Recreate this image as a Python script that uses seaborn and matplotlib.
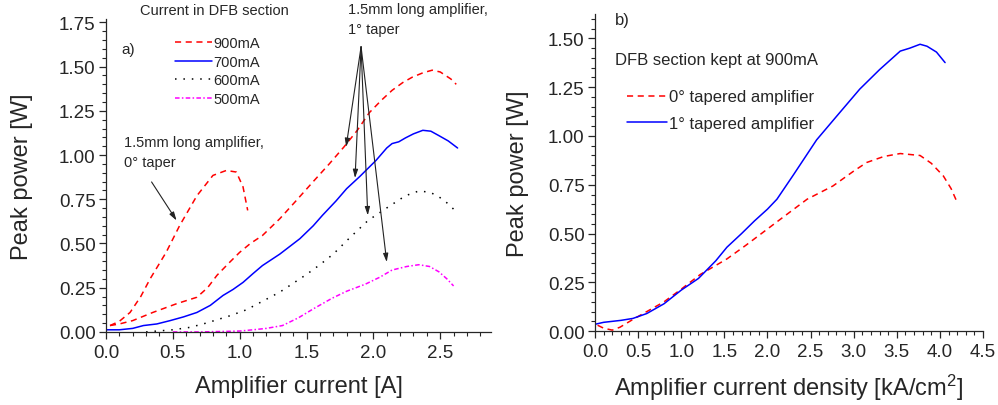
import numpy as np
import matplotlib
matplotlib.use("Agg")
import matplotlib.pyplot as plt
import pandas as pd
import seaborn as sns
from matplotlib.ticker import AutoMinorLocator, MultipleLocator

# ---- panel a) : peak power vs amplifier current, 1 deg taper, several DFB currents
i900 = [0.03, 0.10, 0.20, 0.35, 0.53, 0.68, 0.76, 0.83, 0.92, 1.00, 1.08, 1.17, 1.30, 1.42, 1.55,
        1.67, 1.78, 1.88, 1.97, 2.06, 2.14, 2.22, 2.29, 2.37, 2.44, 2.50, 2.54, 2.58, 2.62]
p900 = [0.036, 0.045, 0.064, 0.11, 0.16, 0.196, 0.25, 0.32, 0.39, 0.45, 0.50, 0.545, 0.64, 0.74, 0.85,
        0.95, 1.046, 1.14, 1.24, 1.31, 1.366, 1.41, 1.44, 1.465, 1.48, 1.47, 1.45, 1.43, 1.40]

i700 = [0.0, 0.10, 0.20, 0.28, 0.38, 0.48, 0.58, 0.68, 0.78, 0.875, 0.95, 1.025, 1.10, 1.17, 1.30,
        1.45, 1.55, 1.62, 1.72, 1.80, 1.90, 2.02, 2.10, 2.14, 2.19, 2.24, 2.30, 2.37, 2.43, 2.49, 2.56, 2.63]
p700 = [0.012, 0.012, 0.02, 0.036, 0.045, 0.064, 0.085, 0.11, 0.15, 0.206, 0.24, 0.28, 0.33, 0.375, 0.44,
        0.527, 0.60, 0.66, 0.74, 0.81, 0.88, 0.97, 1.04, 1.065, 1.075, 1.097, 1.12, 1.14, 1.135, 1.11, 1.08, 1.04]

i600 = [0.30, 0.40, 0.50, 0.63, 0.75, 0.93, 1.05, 1.15, 1.30, 1.40, 1.50, 1.60, 1.70, 1.82, 1.96,
        2.11, 2.24, 2.34, 2.42, 2.48, 2.55, 2.62]
p600 = [0.0, 0.006, 0.012, 0.026, 0.05, 0.092, 0.125, 0.165, 0.225, 0.275, 0.325, 0.38, 0.44, 0.53, 0.63,
        0.706, 0.77, 0.797, 0.79, 0.77, 0.73, 0.68]

i500 = [0.50, 0.70, 0.90, 1.00, 1.10, 1.20, 1.32, 1.44, 1.55, 1.69, 1.80, 1.94, 2.05, 2.14, 2.25,
        2.34, 2.42, 2.49, 2.55, 2.60]
p500 = [0.0, 0.0, 0.003, 0.005, 0.012, 0.02, 0.036, 0.08, 0.13, 0.19, 0.23, 0.27, 0.31, 0.35, 0.37,
        0.38, 0.37, 0.34, 0.30, 0.26]

# 0 deg taper amplifier, DFB at 900mA
i0 = [0.03, 0.10, 0.18, 0.26, 0.33, 0.45, 0.55, 0.68, 0.80, 0.90, 0.975, 1.025, 1.06]
p0 = [0.036, 0.06, 0.11, 0.20, 0.30, 0.45, 0.60, 0.77, 0.885, 0.913, 0.904, 0.82, 0.687]

# ---- panel b) : peak power vs amplifier current density, DFB at 900mA
j1 = [0.0, 0.10, 0.20, 0.30, 0.44, 0.60, 0.80, 1.00, 1.20, 1.40, 1.53, 1.70, 1.85, 2.00, 2.11,
      2.30, 2.57, 2.80, 3.07, 3.30, 3.54, 3.65, 3.77, 3.85, 3.96, 4.06]
q1 = [0.035, 0.045, 0.05, 0.055, 0.065, 0.09, 0.14, 0.21, 0.27, 0.36, 0.43, 0.50, 0.565, 0.625, 0.676,
      0.80, 0.98, 1.10, 1.24, 1.34, 1.435, 1.45, 1.47, 1.46, 1.43, 1.376]

j0 = [0.03, 0.10, 0.20, 0.29, 0.44, 0.60, 0.80, 1.00, 1.22, 1.53, 1.75, 1.99, 2.20, 2.46, 2.76,
      3.00, 3.15, 3.35, 3.54, 3.77, 3.90, 4.04, 4.13, 4.20]
q0 = [0.03, 0.015, 0.005, 0.02, 0.06, 0.10, 0.15, 0.215, 0.29, 0.37, 0.44, 0.52, 0.59, 0.676, 0.744,
      0.82, 0.864, 0.895, 0.91, 0.90, 0.86, 0.795, 0.73, 0.66]

dfb_labels = ["900mA", "700mA", "600mA", "500mA"]
taper_labels = ["0° tapered amplifier", "1° tapered amplifier"]

sns.set_style("ticks")
plt.rcParams['font.family'] = ['Liberation Sans', 'DejaVu Sans']
plt.rcParams['mathtext.default'] = 'regular'
plt.rcParams['axes.linewidth'] = 0.9

fig = plt.figure(figsize=(9.98, 4.06), dpi=100)
ax1 = fig.add_axes([0.1062, 0.180, 0.3858, 0.771])
ax2 = fig.add_axes([0.5962, 0.182, 0.3888, 0.781])

dash = (0, (4, 3))
dot = (0, (1, 4.5))
dashdot = (0, (3, 1.5, 1, 1.5))
red, blue, black, magenta = '#ff0000', '#0000ff', '#000000', '#ff00ff'
lw = 1.1

series_a = [(i900, p900, red, dash), (i700, p700, blue, '-'),
            (i600, p600, black, dot), (i500, p500, magenta, dashdot)]
for (x, y, c, ls), lab in zip(series_a, dfb_labels):
    sns.lineplot(x=x, y=y, ax=ax1, color=c, linestyle=ls, lw=lw, label=lab,
                 sort=False, estimator=None)
sns.lineplot(x=i0, y=p0, ax=ax1, color=red, linestyle=dash, lw=lw, sort=False, estimator=None)

sns.lineplot(x=j0, y=q0, ax=ax2, color=red, linestyle=dash, lw=lw, label=taper_labels[0],
             sort=False, estimator=None)
sns.lineplot(x=j1, y=q1, ax=ax2, color=blue, linestyle='-', lw=lw, label=taper_labels[1],
             sort=False, estimator=None)

# axes
ax1.set_xlim(0, 2.88)
ax1.set_ylim(0, 1.77)
ax1.xaxis.set_major_locator(MultipleLocator(0.5))
ax1.yaxis.set_major_locator(MultipleLocator(0.25))
ax2.set_xlim(0, 4.5)
ax2.set_ylim(0, 1.625)
ax2.xaxis.set_major_locator(MultipleLocator(0.5))
ax2.yaxis.set_major_locator(MultipleLocator(0.25))

for ax in (ax1, ax2):
    sns.despine(ax=ax)
    ax.xaxis.set_minor_locator(AutoMinorLocator(5))
    ax.yaxis.set_minor_locator(AutoMinorLocator(5))
    ax.xaxis.set_major_formatter(matplotlib.ticker.FormatStrFormatter('%.1f'))
    ax.yaxis.set_major_formatter(matplotlib.ticker.FormatStrFormatter('%.2f'))
    ax.tick_params(which='major', direction='out', length=5, width=0.9, labelsize=13.5)
    ax.tick_params(which='minor', direction='out', length=3, width=0.8)
    ax.tick_params(axis='x', which='major', pad=3.5)
    ax.tick_params(axis='y', which='major', pad=2.5)
    ax.set_ylabel('Peak power [W]', fontsize=17)
    ax.yaxis.label.set_va('center')
    ax.yaxis.label.set_ha('center')
    ax.xaxis.label.set_va('center')

ax1.set_xlabel('Amplifier current [A]', fontsize=17)
ax2.set_xlabel('Amplifier current density [kA/cm$^2$]', fontsize=17)
ax1.yaxis.set_label_coords(-0.217, 0.5)
ax2.yaxis.set_label_coords(-0.198, 0.5)
ax1.xaxis.set_label_coords(0.5, -0.172)
ax2.xaxis.set_label_coords(0.5, -0.177)

# legends
h1 = ax1.get_lines()[:4]
ax1.legend(h1, dfb_labels, loc='upper left', bbox_to_anchor=(0.179, 0.945), frameon=False,
           fontsize=10.5, handlelength=2.55, handletextpad=0.1, labelspacing=0.31,
           borderpad=0, borderaxespad=0)
ax2.legend(loc='upper left', bbox_to_anchor=(0.082, 0.762), frameon=False,
           fontsize=12, handlelength=2.4, handletextpad=0.15, labelspacing=0.71,
           borderpad=0, borderaxespad=0)

# annotations panel a
ax1.text(0.254, 1.818, 'Current in DFB section', fontsize=10.5, va='center', clip_on=False)
ax1.text(0.112, 1.60, 'a)', fontsize=11, va='center')
ax1.text(1.81, 1.768, '1.5mm long amplifier,\n1° taper', fontsize=10.5, va='center',
         linespacing=1.55, clip_on=False)
ax1.text(0.134, 1.019, '1.5mm long amplifier,\n0° taper', fontsize=10.5, va='center',
         linespacing=1.55)

arrow_kw = dict(arrowstyle='-|>,head_length=0.5,head_width=0.15', lw=0.8, color='#222222',
                shrinkA=0, shrinkB=0)
origin = (1.908, 1.612)
for tip in [(1.796, 1.046), (1.863, 0.87), (1.958, 0.659), (2.10, 0.395)]:
    ax1.annotate('', xy=tip, xytext=origin, arrowprops=arrow_kw)
ax1.annotate('', xy=(0.528, 0.63), xytext=(0.341, 0.848), arrowprops=arrow_kw)

# annotations panel b
ax2.text(0.232, 1.597, 'b)', fontsize=12, va='center')
ax2.text(0.232, 1.393, 'DFB section kept at 900mA', fontsize=12, va='center')

plt.savefig('out.png', dpi=100)
